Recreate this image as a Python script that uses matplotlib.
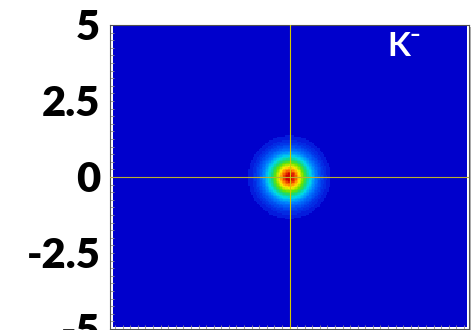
import numpy as np
import matplotlib
matplotlib.use('Agg')
import matplotlib.pyplot as plt
from matplotlib.colors import LinearSegmentedColormap, BoundaryNorm
from matplotlib.patches import Rectangle

# данные
blob_center = [0.0, 0.0]      # положение максимума
blob_sigma = [0.5, 0.5]       # ширина пятна по x и y
blob_peak = 1.0
n_levels = 40
y_ticks = [5, 2.5, 0, -2.5, -5]
y_tick_labels = ['5', '2.5', '0', '-2.5', '-5']
particle = 'K⁻'

# сетка
step = 0.05
xs = np.arange(-5.78, 5.78 + step, step)
ys = np.arange(-4.9, 4.9 + step, step)
X, Y = np.meshgrid(xs, ys)
Z = blob_peak * np.exp(-((X - blob_center[0]) ** 2) / (2 * blob_sigma[0] ** 2)
                       - ((Y - blob_center[1]) ** 2) / (2 * blob_sigma[1] ** 2))

# палитра примерно как в оригинале
cmap = LinearSegmentedColormap.from_list('jetlike', [
    (0.0, (0.0, 0.0, 0.80)),
    (0.02, (0.02, 0.1, 0.86)),
    (0.1, (0.0, 0.28, 0.94)),
    (0.22, (0.0, 0.5, 1.0)),
    (0.38, (0.0, 0.85, 0.92)),
    (0.52, (0.1, 0.85, 0.45)),
    (0.65, (0.4, 0.9, 0.0)),
    (0.8, (1.0, 0.92, 0.0)),
    (0.9, (1.0, 0.5, 0.0)),
    (1.0, (0.82, 0.0, 0.0)),
])
levels = np.linspace(0, blob_peak, n_levels + 1)
norm = BoundaryNorm(levels, cmap.N)

fig = plt.figure(figsize=(4.74, 3.3), dpi=100)
fig.patch.set_facecolor('white')

# тень рамки
shadow = Rectangle((112 / 474, 1 - 331 / 330), 359 / 474, 304 / 330,
                   transform=fig.transFigure, facecolor='#b0b0b0',
                   edgecolor='none', zorder=0)
fig.patches.append(shadow)

ax = fig.add_axes([110 / 474, 1 - 329 / 330, 359 / 474, 304 / 330])
ax.set_zorder(2)
ax.set_facecolor('white')
ax.imshow(Z, extent=[xs[0] - step / 2, xs[-1] + step / 2, ys[0] - step / 2, ys[-1] + step / 2],
          origin='lower', cmap=cmap, norm=norm, interpolation='nearest', aspect='auto', zorder=1)

ax.set_xlim(-5.92, 5.92)
ax.set_ylim(-5, 5)

# перекрестие
ax.axhline(0, color='#b8b030', lw=0.8, zorder=3)
ax.axvline(0, color='#d2c800', lw=0.8, zorder=3)

ax.set_yticks(y_ticks)
ax.set_yticklabels(y_tick_labels, family=['Lato', 'DejaVu Sans'], fontweight='heavy', fontsize=30)
ax.set_yticks(np.arange(-5, 5.01, 0.25), minor=True)
ax.set_xticks(np.arange(-5.75, 5.76, 0.25))
ax.set_xticklabels([])
ax.tick_params(axis='both', which='both', direction='in', length=2.9, width=0.6,
               color='#909090', top=False, right=False)
ax.tick_params(axis='y', which='major', pad=7)

for sp in ax.spines.values():
    sp.set_color('#505050')
    sp.set_linewidth(0.8)

ax.text(0.82, 0.93, particle, transform=ax.transAxes, color='white', fontsize=24,
        fontweight='bold', family=['Lato', 'DejaVu Sans'], ha='center', va='center', zorder=4)

fig.savefig('out.png', dpi=100)
